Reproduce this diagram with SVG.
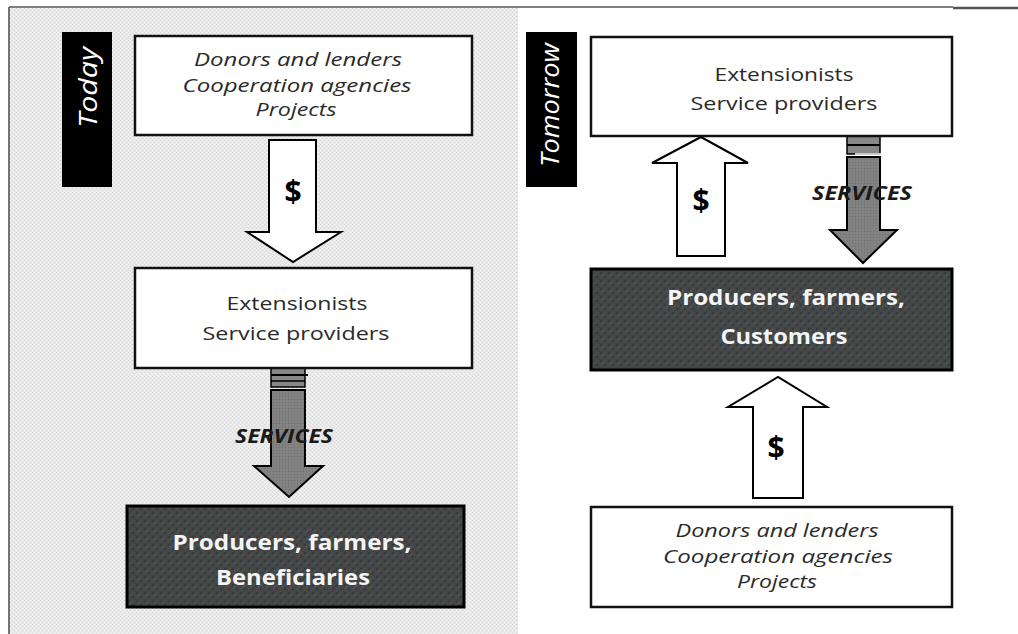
<svg xmlns="http://www.w3.org/2000/svg" width="1018" height="634" viewBox="0 0 1018 634">
<defs>
<pattern id="lightTex" width="4" height="4" patternUnits="userSpaceOnUse">
<rect width="4" height="4" fill="#e9e9e9"/>
<rect x="0" y="0" width="1" height="1" fill="#dadada"/>
<rect x="2" y="2" width="1" height="1" fill="#dadada"/>
<rect x="2" y="0" width="1" height="1" fill="#f2f2f2"/>
<rect x="0" y="2" width="1" height="1" fill="#f2f2f2"/>
</pattern>
<pattern id="darkTex" width="8" height="8" patternUnits="userSpaceOnUse">
<rect width="8" height="8" fill="#454545"/>
<rect x="0" y="0" width="2" height="2" fill="#3a3a3a"/>
<rect x="4" y="4" width="2" height="2" fill="#3a3a3a"/>
<rect x="4" y="0" width="2" height="2" fill="#4c4c4c"/>
<rect x="0" y="4" width="2" height="2" fill="#4c4c4c"/>
<rect x="2" y="2" width="1.5" height="1.5" fill="#3d6b6b"/>
</pattern>
<pattern id="grayTex" width="3" height="3" patternUnits="userSpaceOnUse">
<rect width="3" height="3" fill="#808080"/>
<rect x="0" y="0" width="1" height="1" fill="#737373"/>
<rect x="1.5" y="1.5" width="1" height="1" fill="#8c8c8c"/>
</pattern>
</defs>
<style>
.lbl{fill:#000}
.lbltxt{font-family:"Open Sans","Noto Sans",sans-serif;font-style:italic;font-size:25px;fill:#fff}
.box{fill:#fff;stroke:#111;stroke-width:2.5}
.dbox{fill:url(#darkTex);stroke:#000;stroke-width:3}
.it{font-family:"Open Sans","Noto Sans",sans-serif;font-style:italic;font-size:18px;fill:#2a2a2a;text-anchor:middle}
.rg{font-family:"Open Sans","Noto Sans",sans-serif;font-size:19px;fill:#2a2a2a;text-anchor:middle}
.wb{font-family:"Open Sans","Noto Sans",sans-serif;font-weight:bold;font-size:22px;fill:#f4f4f4;text-anchor:middle}
.usd{font-family:"Open Sans","Noto Sans",sans-serif;font-weight:bold;font-size:30px;fill:#000;text-anchor:middle}
.svc{font-family:"Open Sans","Noto Sans",sans-serif;font-weight:bold;font-style:italic;font-size:19px;fill:#1a1a1a;text-anchor:middle}
.harrow{fill:#fff;stroke:#000;stroke-width:2;stroke-linejoin:miter}
.garrow{fill:url(#grayTex);stroke:#000;stroke-width:2}
.band{fill:#888;stroke:#000;stroke-width:1.5}
</style>
<rect x="0" y="0" width="1018" height="634" fill="#fff"/>
<g id="background">
<rect x="10" y="8" width="508" height="626" fill="url(#lightTex)"/>
<line x1="9" y1="7" x2="9" y2="634" stroke="#444" stroke-width="1.5"/>
<line x1="9" y1="7" x2="953" y2="7" stroke="#555" stroke-width="1.5"/>
<line x1="953" y1="8" x2="1018" y2="8" stroke="#555" stroke-width="2.5"/>
</g>
<g id="connectors">
<path class="harrow" d="M269,140 H316 V232 H341 L293,262 L247,232 H269 Z"/>
<text class="usd" x="293" y="202">$</text>
<rect class="band" x="271" y="368" width="34" height="19"/>
<line x1="271" y1="375" x2="308" y2="375" stroke="#000" stroke-width="2"/>
<line x1="271" y1="381" x2="305" y2="381" stroke="#000" stroke-width="1.5"/>
<path class="garrow" d="M271,390 H305 V466 H323 L289,497 L254,466 H271 Z"/>
<text class="svc" x="284" y="443" textLength="98" lengthAdjust="spacingAndGlyphs">SERVICES</text>
<path class="harrow" d="M677,256 H725 V163 H748 L701,137 L652,163 H677 Z"/>
<text class="usd" x="701" y="211">$</text>
<rect class="band" x="847" y="136" width="33" height="18"/>
<line x1="847" y1="145" x2="880" y2="145" stroke="#000" stroke-width="2"/>
<line x1="855" y1="154" x2="882" y2="154" stroke="#fff" stroke-width="1.5"/>
<path class="garrow" d="M847,157 H880 V230 H897 L863,263 L830,230 H847 Z"/>
<text class="svc" x="862" y="200" textLength="100" lengthAdjust="spacingAndGlyphs">SERVICES</text>
<path class="harrow" d="M753,498 H803 V407 H827 L778,377 L728,407 H753 Z"/>
<text class="usd" x="776" y="458">$</text>
</g>
<g id="label-today">
<rect class="lbl" x="62" y="32" width="50" height="155"/>
<text class="lbltxt" transform="translate(97,128) rotate(-90)" textLength="81" lengthAdjust="spacingAndGlyphs">Today</text>
</g>
<g id="label-tomorrow">
<rect class="lbl" x="526" y="32" width="51" height="155"/>
<text class="lbltxt" transform="translate(559,167) rotate(-90)" textLength="124" lengthAdjust="spacingAndGlyphs">Tomorrow</text>
</g>
<g id="today-donors">
<rect class="box" x="135" y="36" width="337" height="99"/>
<text class="it" x="298" y="66" textLength="208" lengthAdjust="spacingAndGlyphs">Donors and lenders</text>
<text class="it" x="297" y="92" textLength="229" lengthAdjust="spacingAndGlyphs">Cooperation agencies</text>
<text class="it" x="296" y="116" textLength="81" lengthAdjust="spacingAndGlyphs">Projects</text>
</g>
<g id="today-extensionists">
<rect class="box" x="135" y="268" width="337" height="100"/>
<text class="rg" x="297" y="310" textLength="141" lengthAdjust="spacingAndGlyphs">Extensionists</text>
<text class="rg" x="296" y="340" textLength="187" lengthAdjust="spacingAndGlyphs">Service providers</text>
</g>
<g id="today-producers">
<rect class="dbox" x="127" y="506" width="337" height="101"/>
<text class="wb" x="292" y="550" textLength="239" lengthAdjust="spacingAndGlyphs">Producers, farmers,</text>
<text class="wb" x="293" y="585" textLength="154" lengthAdjust="spacingAndGlyphs">Beneficiaries</text>
</g>
<g id="tomorrow-extensionists">
<rect class="box" x="591" y="37" width="361" height="99" stroke-width="3.5"/>
<text class="rg" x="784" y="81" textLength="139" lengthAdjust="spacingAndGlyphs">Extensionists</text>
<text class="rg" x="784" y="110" textLength="187" lengthAdjust="spacingAndGlyphs">Service providers</text>
</g>
<g id="tomorrow-producers">
<rect class="dbox" x="591" y="269" width="361" height="101"/>
<text class="wb" x="786" y="305" textLength="238" lengthAdjust="spacingAndGlyphs">Producers, farmers,</text>
<text class="wb" x="784" y="344" textLength="127" lengthAdjust="spacingAndGlyphs">Customers</text>
</g>
<g id="tomorrow-donors">
<rect class="box" x="591" y="507" width="361" height="100" stroke-width="3.5"/>
<text class="it" x="777" y="537" textLength="203" lengthAdjust="spacingAndGlyphs">Donors and lenders</text>
<text class="it" x="778" y="563" textLength="230" lengthAdjust="spacingAndGlyphs">Cooperation agencies</text>
<text class="it" x="777" y="588" textLength="80" lengthAdjust="spacingAndGlyphs">Projects</text>
</g>
</svg>
